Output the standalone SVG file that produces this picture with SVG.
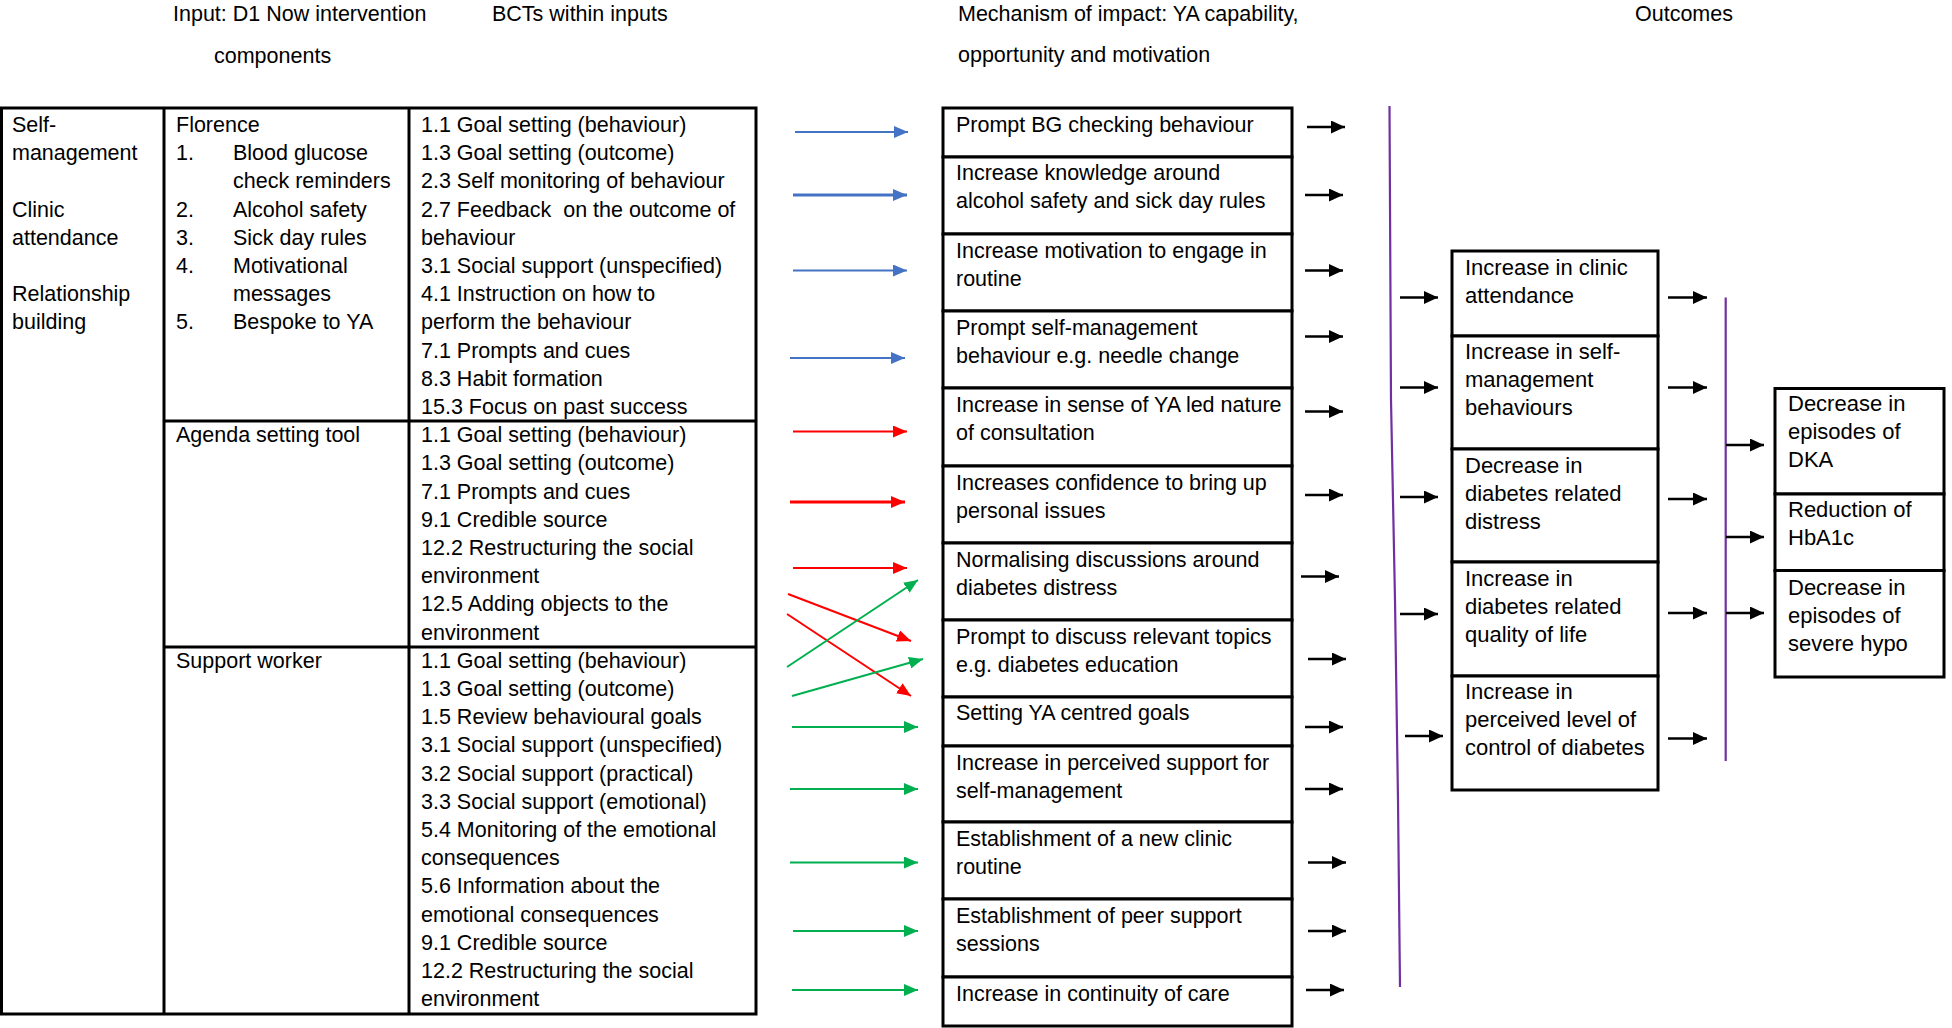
<svg xmlns="http://www.w3.org/2000/svg" width="1952" height="1028" viewBox="0 0 1952 1028">
<style>
text{font-family:"Liberation Sans",Arial,sans-serif;font-size:21.5px;fill:#000}
.o{font-size:22px}
.box{fill:#fff;stroke:#000;stroke-width:3}
.ln{stroke:#000;stroke-width:3;fill:none}
.blue{stroke:#4472C4;stroke-width:2;fill:none}
.red{stroke:#FF0000;stroke-width:2;fill:none}
.green{stroke:#00B050;stroke-width:2;fill:none}
.blk{stroke:#000;stroke-width:2.6;fill:none}
.pur{stroke:#7030A0;stroke-width:2.2;fill:none}
.thick{stroke-width:3}
</style>
<defs>
<marker id="ab" markerUnits="userSpaceOnUse" markerWidth="14" markerHeight="12" refX="14" refY="6" orient="auto"><path d="M0,0 L14,6 L0,12 z" fill="#4472C4"/></marker>
<marker id="ar" markerUnits="userSpaceOnUse" markerWidth="14" markerHeight="12" refX="14" refY="6" orient="auto"><path d="M0,0 L14,6 L0,12 z" fill="#FF0000"/></marker>
<marker id="ag" markerUnits="userSpaceOnUse" markerWidth="14" markerHeight="12" refX="14" refY="6" orient="auto"><path d="M0,0 L14,6 L0,12 z" fill="#00B050"/></marker>
<marker id="ak" markerUnits="userSpaceOnUse" markerWidth="14" markerHeight="13" refX="14" refY="6.5" orient="auto"><path d="M0,0 L14,6.5 L0,13 z" fill="#000"/></marker>
</defs>
<rect width="1952" height="1028" fill="#fff"/>

<g id="headers">
<text x="173" y="21">Input: D1 Now intervention</text>
<text x="214" y="63">components</text>
<text x="492" y="21">BCTs within inputs</text>
<text x="958" y="21">Mechanism of impact: YA capability,</text>
<text x="958" y="62">opportunity and motivation</text>
<text x="1635" y="21">Outcomes</text>
</g>

<g id="input-table">
<rect x="1.5" y="108" width="754.5" height="906" class="ln"/>
<line x1="164" y1="108" x2="164" y2="1014" class="ln"/>
<line x1="409" y1="108" x2="409" y2="1014" class="ln"/>
<line x1="164" y1="421" x2="756" y2="421" class="ln"/>
<line x1="164" y1="647" x2="756" y2="647" class="ln"/>
</g>

<g id="components-overview">
<text x="12" y="132">Self-</text>
<text x="12" y="160.2">management</text>
<text x="12" y="216.6">Clinic</text>
<text x="12" y="244.8">attendance</text>
<text x="12" y="301.2">Relationship</text>
<text x="12" y="329.4">building</text>
</g>

<g id="florence">
<text x="176" y="132">Florence</text>
<text x="176" y="160.2">1.</text><text x="233" y="160.2">Blood glucose</text>
<text x="233" y="188.4">check reminders</text>
<text x="176" y="216.6">2.</text><text x="233" y="216.6">Alcohol safety</text>
<text x="176" y="244.8">3.</text><text x="233" y="244.8">Sick day rules</text>
<text x="176" y="273">4.</text><text x="233" y="273">Motivational</text>
<text x="233" y="301.2">messages</text>
<text x="176" y="329.4">5.</text><text x="233" y="329.4">Bespoke to YA</text>
</g>

<g id="florence-bcts">
<text x="421" y="132">1.1 Goal setting (behaviour)</text>
<text x="421" y="160.2">1.3 Goal setting (outcome)</text>
<text x="421" y="188.4">2.3 Self monitoring of behaviour</text>
<text x="421" y="216.6" xml:space="preserve">2.7 Feedback  on the outcome of</text>
<text x="421" y="244.8">behaviour</text>
<text x="421" y="273">3.1 Social support (unspecified)</text>
<text x="421" y="301.2">4.1 Instruction on how to</text>
<text x="421" y="329.4">perform the behaviour</text>
<text x="421" y="357.6">7.1 Prompts and cues</text>
<text x="421" y="385.8">8.3 Habit formation</text>
<text x="421" y="414">15.3 Focus on past success</text>
</g>

<g id="agenda-setting-tool">
<text x="176" y="442.2">Agenda setting tool</text>
</g>
<g id="agenda-bcts">
<text x="421" y="442.2">1.1 Goal setting (behaviour)</text>
<text x="421" y="470.4">1.3 Goal setting (outcome)</text>
<text x="421" y="498.6">7.1 Prompts and cues</text>
<text x="421" y="526.8">9.1 Credible source</text>
<text x="421" y="555">12.2 Restructuring the social</text>
<text x="421" y="583.2">environment</text>
<text x="421" y="611.4">12.5 Adding objects to the</text>
<text x="421" y="639.6">environment</text>
</g>

<g id="support-worker">
<text x="176" y="667.8">Support worker</text>
</g>
<g id="support-worker-bcts">
<text x="421" y="667.8">1.1 Goal setting (behaviour)</text>
<text x="421" y="696">1.3 Goal setting (outcome)</text>
<text x="421" y="724.2">1.5 Review behavioural goals</text>
<text x="421" y="752.4">3.1 Social support (unspecified)</text>
<text x="421" y="780.6">3.2 Social support (practical)</text>
<text x="421" y="808.8">3.3 Social support (emotional)</text>
<text x="421" y="837">5.4 Monitoring of the emotional</text>
<text x="421" y="865.2">consequences</text>
<text x="421" y="893.4">5.6 Information about the</text>
<text x="421" y="921.6">emotional consequences</text>
<text x="421" y="949.8">9.1 Credible source</text>
<text x="421" y="978">12.2 Restructuring the social</text>
<text x="421" y="1006.2">environment</text>
</g>

<g id="mechanisms">
<g id="m1"><rect x="943" y="108" width="349" height="49" class="box"/><text x="956" y="132">Prompt BG checking behaviour</text></g>
<g id="m2"><rect x="943" y="157" width="349" height="77" class="box"/><text x="956" y="180">Increase knowledge around</text><text x="956" y="208">alcohol safety and sick day rules</text></g>
<g id="m3"><rect x="943" y="234" width="349" height="77" class="box"/><text x="956" y="258">Increase motivation to engage in</text><text x="956" y="286">routine</text></g>
<g id="m4"><rect x="943" y="311" width="349" height="77" class="box"/><text x="956" y="335">Prompt self-management</text><text x="956" y="363">behaviour e.g. needle change</text></g>
<g id="m5"><rect x="943" y="388" width="349" height="78" class="box"/><text x="956" y="412">Increase in sense of YA led nature</text><text x="956" y="440">of consultation</text></g>
<g id="m6"><rect x="943" y="466" width="349" height="77" class="box"/><text x="956" y="490">Increases confidence to bring up</text><text x="956" y="518">personal issues</text></g>
<g id="m7"><rect x="943" y="543" width="349" height="77" class="box"/><text x="956" y="567">Normalising discussions around</text><text x="956" y="595">diabetes distress</text></g>
<g id="m8"><rect x="943" y="620" width="349" height="77" class="box"/><text x="956" y="644">Prompt to discuss relevant topics</text><text x="956" y="672">e.g. diabetes education</text></g>
<g id="m9"><rect x="943" y="697" width="349" height="49" class="box"/><text x="956" y="720">Setting YA centred goals</text></g>
<g id="m10"><rect x="943" y="746" width="349" height="76" class="box"/><text x="956" y="770">Increase in perceived support for</text><text x="956" y="798">self-management</text></g>
<g id="m11"><rect x="943" y="822" width="349" height="77" class="box"/><text x="956" y="846">Establishment of a new clinic</text><text x="956" y="874">routine</text></g>
<g id="m12"><rect x="943" y="899" width="349" height="78" class="box"/><text x="956" y="923">Establishment of peer support</text><text x="956" y="951">sessions</text></g>
<g id="m13"><rect x="943" y="977" width="349" height="49" class="box"/><text x="956" y="1001">Increase in continuity of care</text></g>
</g>

<g id="short-term-outcomes">
<g id="o1"><rect x="1452" y="251" width="206" height="85" class="box"/><text class="o" x="1465" y="275">Increase in clinic</text><text class="o" x="1465" y="303">attendance</text></g>
<g id="o2"><rect x="1452" y="336" width="206" height="113" class="box"/><text class="o" x="1465" y="359">Increase in self-</text><text class="o" x="1465" y="387">management</text><text class="o" x="1465" y="415">behaviours</text></g>
<g id="o3"><rect x="1452" y="449" width="206" height="113" class="box"/><text class="o" x="1465" y="473">Decrease in</text><text class="o" x="1465" y="501">diabetes related</text><text class="o" x="1465" y="529">distress</text></g>
<g id="o4"><rect x="1452" y="562" width="206" height="114" class="box"/><text class="o" x="1465" y="586">Increase in</text><text class="o" x="1465" y="614">diabetes related</text><text class="o" x="1465" y="642">quality of life</text></g>
<g id="o5"><rect x="1452" y="676" width="206" height="114" class="box"/><text class="o" x="1465" y="699">Increase in</text><text class="o" x="1465" y="727">perceived level of</text><text class="o" x="1465" y="755">control of diabetes</text></g>
</g>

<g id="long-term-outcomes">
<g id="l1"><rect x="1775" y="388.5" width="169" height="105.5" class="box"/><text class="o" x="1788" y="411">Decrease in</text><text class="o" x="1788" y="439">episodes of</text><text class="o" x="1788" y="467">DKA</text></g>
<g id="l2"><rect x="1775" y="494" width="169" height="76.5" class="box"/><text class="o" x="1788" y="517">Reduction of</text><text class="o" x="1788" y="545">HbA1c</text></g>
<g id="l3"><rect x="1775" y="570.5" width="169" height="106.5" class="box"/><text class="o" x="1788" y="595">Decrease in</text><text class="o" x="1788" y="623">episodes of</text><text class="o" x="1788" y="651">severe hypo</text></g>
</g>

<g id="connectors">
<line x1="795" y1="132" x2="908" y2="132" class="blue" marker-end="url(#ab)"/>
<line x1="793" y1="195" x2="907" y2="195" class="blue thick" marker-end="url(#ab)"/>
<line x1="793" y1="270.5" x2="907" y2="270.5" class="blue" marker-end="url(#ab)"/>
<line x1="790" y1="358" x2="905" y2="358" class="blue" marker-end="url(#ab)"/>

<line x1="793" y1="431.5" x2="907" y2="431.5" class="red" marker-end="url(#ar)"/>
<line x1="790" y1="502" x2="905" y2="502" class="red thick" marker-end="url(#ar)"/>
<line x1="793" y1="568" x2="907" y2="568" class="red" marker-end="url(#ar)"/>
<line x1="788" y1="594" x2="911" y2="641" class="red" marker-end="url(#ar)"/>
<line x1="787" y1="614" x2="911" y2="696" class="red" marker-end="url(#ar)"/>

<line x1="787" y1="667" x2="918" y2="580" class="green" marker-end="url(#ag)"/>
<line x1="792" y1="696" x2="923" y2="659" class="green" marker-end="url(#ag)"/>
<line x1="792" y1="727" x2="918" y2="727" class="green" marker-end="url(#ag)"/>
<line x1="790" y1="789" x2="918" y2="789" class="green" marker-end="url(#ag)"/>
<line x1="790" y1="862.5" x2="918" y2="862.5" class="green" marker-end="url(#ag)"/>
<line x1="793" y1="931" x2="918" y2="931" class="green" marker-end="url(#ag)"/>
<line x1="792" y1="990" x2="918" y2="990" class="green" marker-end="url(#ag)"/>

<line x1="1307" y1="127" x2="1345" y2="127" class="blk" marker-end="url(#ak)"/>
<line x1="1305" y1="195" x2="1343" y2="195" class="blk" marker-end="url(#ak)"/>
<line x1="1305" y1="270.5" x2="1343" y2="270.5" class="blk" marker-end="url(#ak)"/>
<line x1="1305" y1="336.5" x2="1343" y2="336.5" class="blk" marker-end="url(#ak)"/>
<line x1="1305" y1="411.5" x2="1343" y2="411.5" class="blk" marker-end="url(#ak)"/>
<line x1="1305" y1="495" x2="1343" y2="495" class="blk" marker-end="url(#ak)"/>
<line x1="1301" y1="576.5" x2="1339" y2="576.5" class="blk" marker-end="url(#ak)"/>
<line x1="1308" y1="659" x2="1346" y2="659" class="blk" marker-end="url(#ak)"/>
<line x1="1305" y1="727" x2="1343" y2="727" class="blk" marker-end="url(#ak)"/>
<line x1="1305" y1="789" x2="1343" y2="789" class="blk" marker-end="url(#ak)"/>
<line x1="1308" y1="862.5" x2="1346" y2="862.5" class="blk" marker-end="url(#ak)"/>
<line x1="1308" y1="931" x2="1346" y2="931" class="blk" marker-end="url(#ak)"/>
<line x1="1306" y1="990" x2="1344" y2="990" class="blk" marker-end="url(#ak)"/>

<polyline points="1389.5,106 1391,400 1395,600 1398,800 1400,987" class="pur"/>

<line x1="1400" y1="297.5" x2="1438" y2="297.5" class="blk" marker-end="url(#ak)"/>
<line x1="1400" y1="387.5" x2="1438" y2="387.5" class="blk" marker-end="url(#ak)"/>
<line x1="1400" y1="497" x2="1438" y2="497" class="blk" marker-end="url(#ak)"/>
<line x1="1400" y1="614" x2="1438" y2="614" class="blk" marker-end="url(#ak)"/>
<line x1="1405" y1="736" x2="1443" y2="736" class="blk" marker-end="url(#ak)"/>

<line x1="1668" y1="297.5" x2="1707" y2="297.5" class="blk" marker-end="url(#ak)"/>
<line x1="1668" y1="387.5" x2="1707" y2="387.5" class="blk" marker-end="url(#ak)"/>
<line x1="1668" y1="499" x2="1707" y2="499" class="blk" marker-end="url(#ak)"/>
<line x1="1668" y1="613" x2="1707" y2="613" class="blk" marker-end="url(#ak)"/>
<line x1="1668" y1="738.5" x2="1707" y2="738.5" class="blk" marker-end="url(#ak)"/>

<line x1="1725.7" y1="297.5" x2="1725.7" y2="761" class="pur"/>

<line x1="1726" y1="445" x2="1764" y2="445" class="blk" marker-end="url(#ak)"/>
<line x1="1726" y1="537" x2="1764" y2="537" class="blk" marker-end="url(#ak)"/>
<line x1="1726" y1="613" x2="1764" y2="613" class="blk" marker-end="url(#ak)"/>
</g>
</svg>
